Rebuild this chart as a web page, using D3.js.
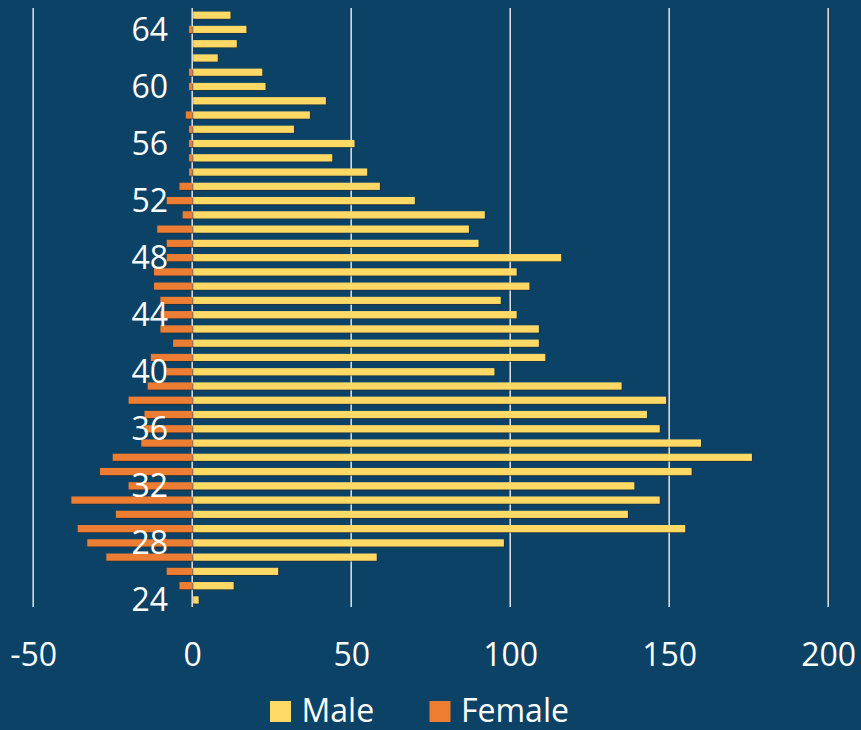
<!DOCTYPE html>
<html>
<head>
<meta charset="utf-8">
<script src="https://cdn.jsdelivr.net/npm/d3@7"></script>
<style>
  html, body { margin: 0; padding: 0; background: #0b4265; }
  svg { display: block; }
  text { font-family: "Open Sans", sans-serif; fill: #ffffff; }
</style>
</head>
<body>
<script>
// Age groups, youngest first
const ages = d3.range(24, 66);
// Male counts per age (24 … 65)
const maleValues = [2, 13, 27, 58, 98, 155, 137, 147, 139, 157, 176, 160, 147, 143, 149, 135,
  95, 111, 109, 109, 102, 97, 106, 102, 116, 90, 87, 92, 70, 59, 55, 44, 51, 32, 37, 42,
  23, 22, 8, 14, 17, 12];
// Female counts per age (24 … 65), plotted to the left of zero
const femaleValues = [0, -4, -8, -27, -33, -36, -24, -38, -20, -29, -25, -16, -15, -15, -20, -14,
  -8, -13, -6, -10, -10, -10, -12, -12, -8, -8, -11, -3, -8, -4, -1, -1, -1, -1, -2, 0,
  -1, -1, 0, 0, -1, 0];
const xTicks = [-50, 0, 50, 100, 150, 200];
const ageLabels = [24, 28, 32, 36, 40, 44, 48, 52, 56, 60, 64];
const seriesNames = ["Male", "Female"];

const W = 861, H = 730;
const colors = { Male: "#ffd966", Female: "#ed7d31" };

const svg = d3.select("body").append("svg")
  .attr("width", W).attr("height", H);

svg.append("rect").attr("width", W).attr("height", H).attr("fill", "#0b4265");

const defs = svg.append("defs");
const shadow = defs.append("filter").attr("id", "barShadow")
  .attr("x", "-5%").attr("y", "-40%").attr("width", "110%").attr("height", "180%");
shadow.append("feDropShadow")
  .attr("dx", 1).attr("dy", 1).attr("stdDeviation", 0.6)
  .attr("flood-color", "#2a2a2a").attr("flood-opacity", 0.7);

const x = d3.scaleLinear().domain([-50, 200]).range([33.2, 828.2]);
const y = d3.scaleBand()
  .domain(ages.slice().reverse())
  .range([8, 607])
  .paddingInner(0.5)
  .paddingOuter(0.25);

// vertical gridlines
svg.append("g").selectAll("line")
  .data(xTicks)
  .join("line")
  .attr("x1", d => x(d)).attr("x2", d => x(d))
  .attr("y1", 8).attr("y2", 607)
  .attr("stroke", "#d9d9d9")
  .attr("stroke-width", 1.6);

const rows = ages.map((a, i) => ({ age: a, male: maleValues[i], female: femaleValues[i] }));

// female bars (left of zero)
svg.append("g").attr("filter", "url(#barShadow)")
  .selectAll("rect")
  .data(rows.filter(d => d.female !== 0))
  .join("rect")
  .attr("x", d => x(d.female))
  .attr("width", d => x(0) - x(d.female))
  .attr("y", d => y(d.age))
  .attr("height", y.bandwidth())
  .attr("fill", colors.Female);

// male bars (right of zero)
svg.append("g").attr("filter", "url(#barShadow)")
  .selectAll("rect")
  .data(rows.filter(d => d.male !== 0))
  .join("rect")
  .attr("x", x(0) + 1)
  .attr("width", d => x(d.male) - x(0) - 1)
  .attr("y", d => y(d.age))
  .attr("height", y.bandwidth())
  .attr("fill", colors.Male);

// age labels
svg.append("g").selectAll("text")
  .data(ageLabels)
  .join("text")
  .attr("x", 168)
  .attr("y", d => y(d) + y.bandwidth() / 2)
  .attr("dy", "0.36em")
  .attr("text-anchor", "end")
  .style("font-size", "32px")
  .text(d => d);

// x-axis labels (plain hyphen for negatives)
const xAxis = d3.axisBottom(x).tickValues(xTicks).tickSize(0).tickPadding(0)
  .tickFormat(d => String(d));
const gx = svg.append("g").attr("transform", "translate(0,643)").call(xAxis);
gx.select(".domain").remove();
gx.selectAll("text")
  .attr("dy", "0.71em")
  .attr("y", 0)
  .style("font-size", "32px")
  .style("font-family", "'Open Sans', sans-serif")
  .attr("fill", "#ffffff");

// legend
const legendX = [270, 429.5];
const legend = svg.append("g").selectAll("g")
  .data(seriesNames)
  .join("g")
  .attr("transform", (d, i) => `translate(${legendX[i]},701)`);
legend.append("rect")
  .attr("width", 21).attr("height", 21)
  .attr("fill", d => colors[d]);
legend.append("text")
  .attr("x", 31.5).attr("y", 21)
  .style("font-size", "32px")
  .text(d => d);
</script>
</body>
</html>
